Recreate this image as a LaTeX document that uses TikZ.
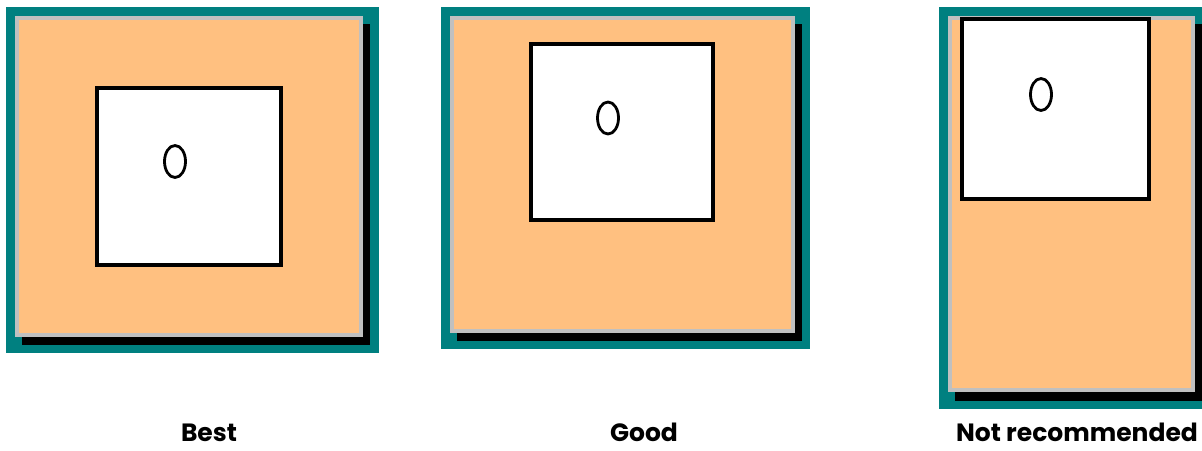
\documentclass[tikz,border=0pt]{standalone}
\usepackage{fontspec}
\setmainfont{Poppins}
\usetikzlibrary{positioning}
\definecolor{frameteal}{RGB}{0,128,128}
\definecolor{sheetorange}{RGB}{255,192,128}
\definecolor{edgegray}{RGB}{192,192,192}

\begin{document}
\begin{tikzpicture}[x=1pt, y=-1pt,
    frame/.style={fill=frameteal},
    shadow/.style={fill=black},
    sheet/.style={fill=sheetorange, draw=edgegray, line width=4pt},
    window/.style={fill=white, draw=black, line width=4pt},
    mark0/.style={draw=black, line width=2.8pt},
    caption/.style={font=\bfseries\fontsize{25}{28}\selectfont, anchor=base, inner sep=0pt}
]
    \useasboundingbox (0,0) rectangle (1202,450);

    % Best
    \fill[frame] (6,7) rectangle (379,353);
    \fill[shadow] (22,24) rectangle (370,345);
    \path[sheet] (17,18) rectangle (361,335);
    \path[window] (97,88) rectangle (281,265);
    \draw[mark0] (175,161.5) ellipse (10.5 and 16);

    % Good
    \fill[frame] (441,7) rectangle (810,349);
    \fill[shadow] (457,24) rectangle (802,341);
    \path[sheet] (452,18) rectangle (793,331);
    \path[window] (531,44) rectangle (713,220);
    \draw[mark0] (608,118) ellipse (10.5 and 16);

    % Not recommended
    \fill[frame] (939,7) rectangle (1210,409);
    \fill[shadow] (955,24) rectangle (1202,401);
    \path[sheet] (950,18) rectangle (1193,390);
    \path[window] (962,19) rectangle (1149,199);
    \draw[mark0] (1041,94.5) ellipse (10.5 and 16);

    % Captions
    \node[caption] (best) at (209,441) {Best};
    \node[caption] (good) at (644,441) {Good};
    \node[caption] (notrec) at (1077,441) {Not recommended};
\end{tikzpicture}
\end{document}
